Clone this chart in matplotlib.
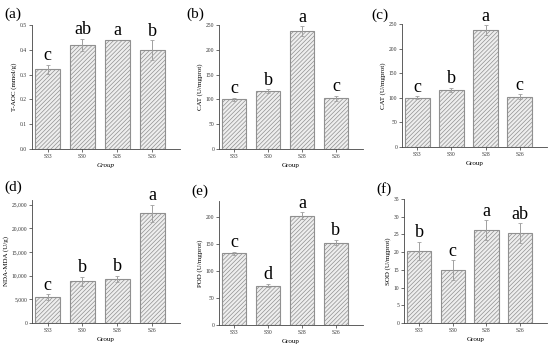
import matplotlib
matplotlib.use("Agg")
import matplotlib.pyplot as plt
import numpy as np

plt.rcParams["font.family"] = ["Liberation Serif", "DejaVu Serif"]
plt.rcParams["hatch.color"] = "#a0a0a0"
plt.rcParams["hatch.linewidth"] = 0.5

GROUPS = ["S33", "S30", "S28", "S26"]

TAOC = [0.322, 0.420, 0.440, 0.398]
TAOC_ERR = [0.018, 0.025, 0.0, 0.040]
TAOC_SIG = ["c", "ab", "a", "b"]

CAT = [100, 116, 237, 102]
CAT_ERR = [3, 4, 10, 5]
CAT_SIG = ["c", "b", "a", "c"]

MDA = [5500, 8800, 9300, 23200]
MDA_ERR = [600, 900, 700, 1800]
MDA_SIG = ["c", "b", "b", "a"]

POD = [133, 73, 203, 153]
POD_ERR = [3, 3, 6, 5]
POD_SIG = ["c", "d", "a", "b"]

SOD = [20.4, 14.9, 26.2, 25.3]
SOD_ERR = [2.5, 2.8, 2.8, 2.8]
SOD_SIG = ["b", "c", "a", "ab"]

W, H = 550, 348
# (label, values, errors, letters, ylabel, ylim, yticks, axes box px (l, r, t, b), label pos px)
PANELS = [
    ("(a)", TAOC, TAOC_ERR, TAOC_SIG, "T-AOC (mmol/g)", 0.5, np.arange(0, 0.51, 0.1), (32, 180, 25, 149), (4, 14)),
    ("(b)", CAT, CAT_ERR, CAT_SIG, "CAT (U/mgprot)", 250, np.arange(0, 251, 50), (219, 363, 25, 149), (186, 14)),
    ("(c)", CAT, CAT_ERR, CAT_SIG, "CAT (U/mgprot)", 250, np.arange(0, 251, 50), (402, 547, 24, 147), (371, 15)),
    ("(d)", MDA, MDA_ERR, MDA_SIG, "NDA-MDA (U/g)", 26000, np.arange(0, 25001, 5000), (32, 180, 200, 323), (4, 187)),
    ("(e)", POD, POD_ERR, POD_SIG, "POD (U/mgprot)", 230, np.arange(0, 201, 50), (219, 363, 201, 325), (191, 191)),
    ("(f)", SOD, SOD_ERR, SOD_SIG, "SOD (U/mgprot)", 35, np.arange(0, 36, 5), (404, 547, 199, 323), (376, 189)),
]

fig = plt.figure(figsize=(W / 100, H / 100), dpi=100)
x = np.arange(len(GROUPS))

for tag, vals, errs, sig, ylab, ytop, yt, (l, r, t, b), (tx, ty) in PANELS:
    ax = fig.add_axes([l / W, 1 - b / H, (r - l) / W, (b - t) / H])
    ax.bar(x, vals, width=0.72, color="#eeeeee", edgecolor="#909090",
           linewidth=0.8, hatch="////////")
    ax.errorbar(x, vals, yerr=errs, fmt="none", ecolor="#a0a0a0",
                elinewidth=0.7, capsize=1.5, capthick=0.6)
    for xi, v, e, s in zip(x, vals, errs, sig):
        ax.text(xi, v + e + ytop * 0.005, s, ha="center", va="bottom", fontsize=13)
    ax.set_xlim(-0.45, 3.8)
    ax.set_ylim(0, ytop)
    ax.set_yticks(yt)
    if tag == "(d)":
        ax.set_yticklabels([f"{int(v):,}" for v in yt])
    elif tag == "(a)":
        ax.set_yticklabels([f"{v:.1f}" for v in yt])
    ax.set_xticks(x)
    ax.set_xticklabels(GROUPS)
    ax.tick_params(labelsize=4, length=2, width=0.5, pad=1.5, colors="#333333")
    for sp in ("top", "right"):
        ax.spines[sp].set_visible(False)
    for sp in ("left", "bottom"):
        ax.spines[sp].set_linewidth(0.6)
        ax.spines[sp].set_color("#444444")
    ax.set_xlabel("Group", fontsize=5, labelpad=3,
                  style="italic" if tag == "(a)" else "normal")
    ax.set_ylabel(ylab, fontsize=5, labelpad=2)
    fig.text(tx / W, 1 - ty / H, tag, fontsize=11, ha="left", va="center")

fig.savefig("out.png", dpi=100)
